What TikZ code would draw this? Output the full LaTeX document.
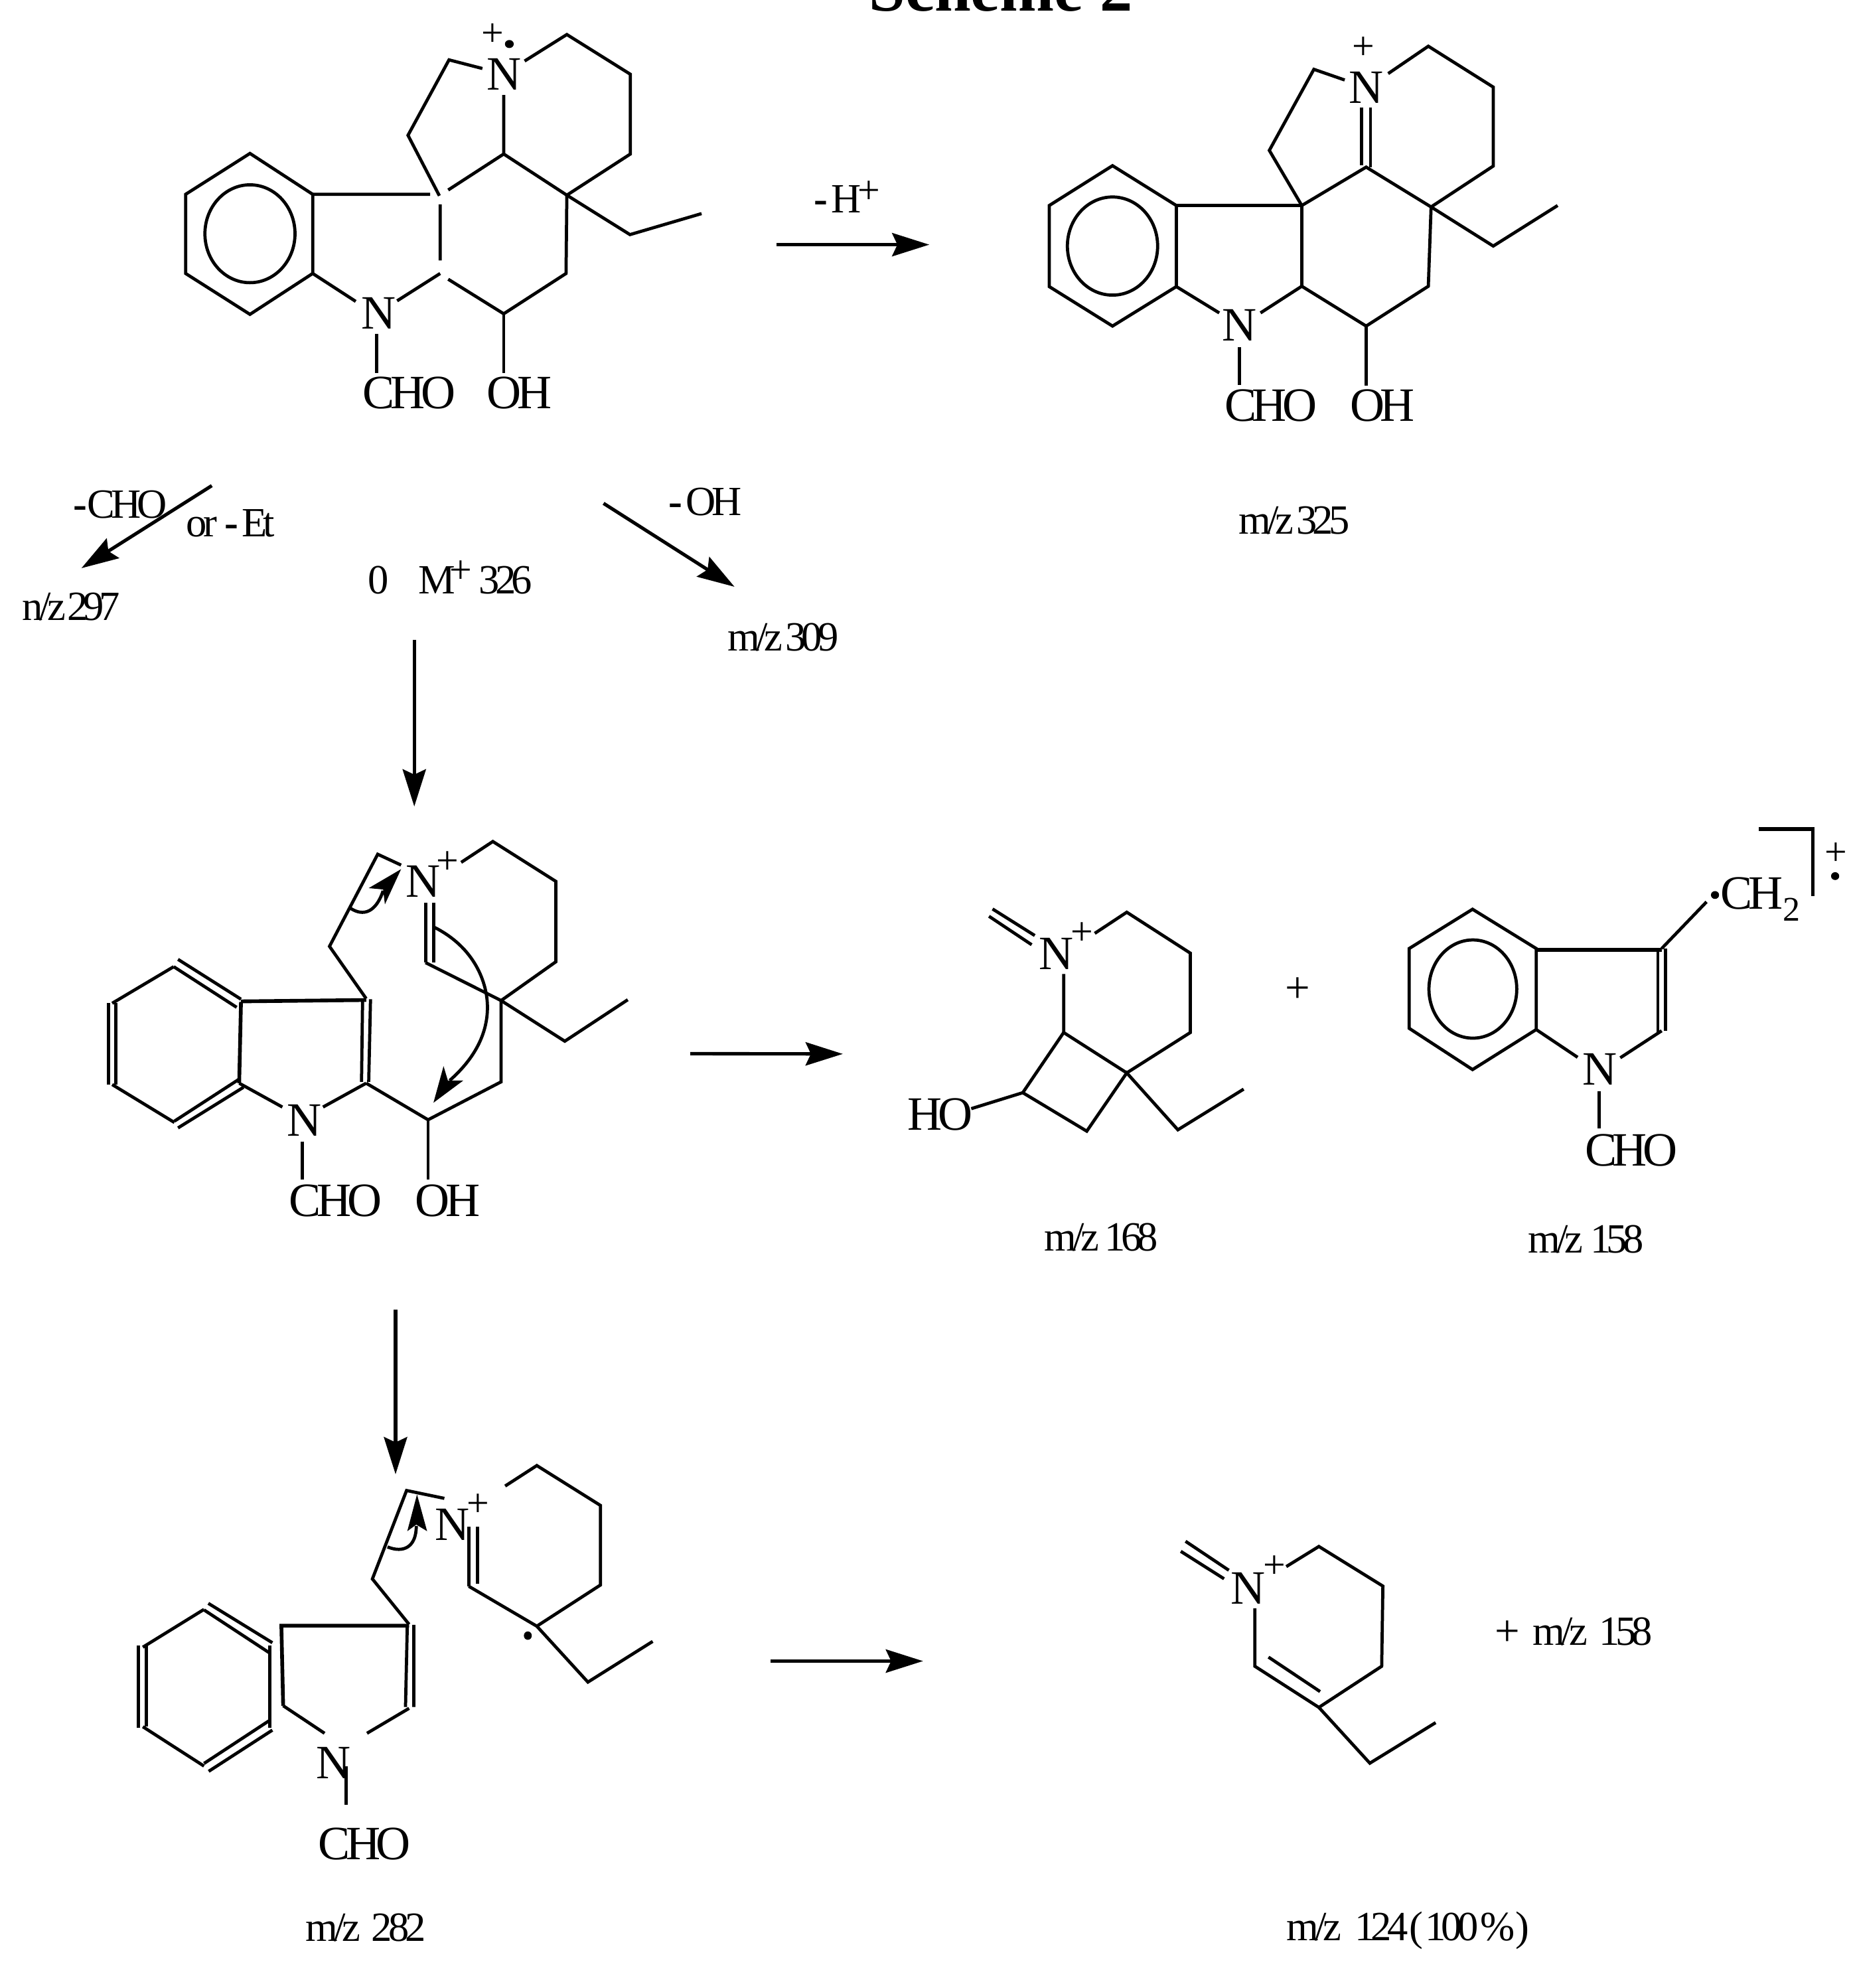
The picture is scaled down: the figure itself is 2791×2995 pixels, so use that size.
\documentclass[tikz,border=0pt]{standalone}
\usepackage{fontspec}
\setmainfont{Liberation Serif}
\newfontfamily\fa[LetterSpace=-9]{Liberation Serif}
\newfontfamily\fc[LetterSpace=-11]{Liberation Serif}
\newcommand{\mzt}[3]{#3/z\hspace{#1cm}{\fc #2}}
\usetikzlibrary{arrows.meta}
\tikzset{
  zm/.style n args={4}{shift={(#1,#2)},xscale=#3,yscale=#4},
  bond/.style={line width=1.35pt,line cap=butt,line join=miter},
  heavy/.style={line width=1.6pt},
  rxn/.style={line width=1.45pt,-{Stealth[length=.56cm,width=.35cm,inset=.08cm]}},
  atom/.style={inner sep=0pt,anchor=base west,font=\fa\fontsize{20.5}{20.5}\selectfont},
  mz/.style={inner sep=0pt,anchor=base west,font=\fa\fontsize{17.8}{17.8}\selectfont},
  chg/.style={inner sep=0pt,anchor=center,font=\rmfamily\fontsize{17}{17}\selectfont},
  bigplus/.style={inner sep=0pt,anchor=center,font=\rmfamily\fontsize{19}{19}\selectfont},
  head/.style={fill=black,draw=none}
}
\begin{document}
\begin{tikzpicture}[x=0.01cm,y=-0.01cm]
\clip (0,0) rectangle (2791,2995);
% title
\node[inner sep=0pt,anchor=base west,font=\rmfamily\bfseries\fontsize{28}{28}\selectfont] (title) at (1309,17) {Scheme 2};

% ---- molecule 1
\begin{scope}[zm={230}{0}{.6059}{.4337}]
\draw[bond] (242,533)--(398,675)--(398,950)--(242,1092)--(82,950)--(82,675)--cycle;
\draw[bond] (242,812) ellipse [x radius=112,y radius=170];
\draw[bond] (398,675)--(690,675) (398,950)--(505,1047) (608,1045)--(715,950) (715,905)--(715,710);
\draw[bond] (735,660)--(873,535)--(873,330);
\draw[bond] (820,238)--(737,208)--(635,470)--(713,680);
\draw[bond] (925,212)--(1030,120)--(1188,258)--(1188,535)--(1030,678)--(873,535);
\draw[bond] (1030,678)--(1028,950)--(873,1090)--(735,970);
\draw[bond] (1030,678)--(1187,815)--(1365,742);
\draw[bond] (873,1090)--(873,1295) (557,1160)--(557,1295);
\node[atom] (n1a) at (830,312) {N};
\node[atom] (n1b) at (518,1143) {N};
\node[atom] (cho1) at (522,1420) {CHO};
\node[atom] (oh1) at (830,1420) {OH};
\node[chg] (p1) at (846,122) {+};
\fill (887,153) ellipse [x radius=11,y radius=14];
\end{scope}

% ---- labels and arrows under molecule 1
\begin{scope}[zm={0}{700}{.829}{.33333}]
\coordinate (a1s) at (385,95); \coordinate (a1e) at (148,468);
\coordinate (a2s) at (1097,175); \coordinate (a2e) at (1335,552);
\coordinate (a3s) at (753,793); \coordinate (a3e) at (753,1545);
\draw[rxn] (a1s)--(a1e);
\draw[rxn] (a2s)--(a2e);
\draw[rxn] (a3s)--(a3e);
\node[mz] (l1) at (133,242) {\textbf{-}\hspace{.05cm}CHO};
\node[mz] (l2) at (338,325) {or\hspace{.17cm}\textbf{-}\hspace{.1cm}Et};
\node[mz] (l3) at (1215,230) {\textbf{-} OH};
\node[mz] (l4) at (668,583) {0};
\node[mz] (l5) at (760,583) {M};
\node[chg] (l6) at (838,485) {+};
\node[mz,font=\fc\fontsize{17.8}{17.8}\selectfont] (l7) at (870,583) {326};
\node[mz] (l8) at (40,703) {\mzt{.02}{297}{n}};
\node[mz] (l9) at (1322,843) {\mzt{.04}{309}{m}};
\end{scope}

% ---- molecule 2
\begin{scope}[zm={1120}{0}{.829}{.5357}]
\draw[bond] (671,466)--(787,578)--(787,806)--(671,917)--(556,806)--(556,578)--cycle;
\draw[bond] (671,692) ellipse [x radius=82,y radius=138];
\draw[heavy] (787,578)--(1015,578);
\draw[bond] (787,806)--(865,880) (940,880)--(1015,805)--(1015,578);
\draw[bond] (1015,805)--(1132,917)--(1245,805)--(1250,582);
\draw[bond] (1015,578)--(1132,470)--(1250,582)--(1363,467)--(1363,245)--(1245,130)--(1172,207);
\draw[bond] (1093,225)--(1037,195)--(956,423)--(1015,578);
\draw[bond] (1124,302)--(1124,465) (1140,302)--(1140,470);
\draw[bond] (1250,582)--(1363,692)--(1480,578);
\draw[bond] (1132,917)--(1132,1085) (902,977)--(902,1083);
\node[atom] (n2a) at (1100,290) {N};
\node[atom] (n2b) at (870,958) {N};
\node[atom] (cho2) at (874,1185) {CHO};
\node[atom] (oh2) at (1102,1185) {OH};
\node[chg] (p2) at (1127,135) {+};
\coordinate (a4s) at (60,688); \coordinate (a4e) at (338,688);
\draw[rxn] (a4s)--(a4e);
\node[mz] (h1) at (128,598) {\textbf{-} H};
\node[chg] (h2) at (228,540) {+};
\node[mz] (m325) at (900,1502) {\mzt{.04}{325}{m}};
\end{scope}

% ---- molecule 3
\begin{scope}[zm={130}{1240}{.5421}{.4082}]
\draw[bond] (255,503)--(430,650) (243,530)--(418,680);
\draw[bond] (62,665)--(62,965) (82,665)--(82,965);
\draw[bond] (245,1100)--(425,945) (255,1125)--(437,975);
\draw[bond] (243,530)--(72,665) (72,965)--(245,1105);
\draw[heavy] (430,660)--(425,960) (430,658)--(778,653);
\draw[bond] (425,960)--(545,1048) (658,1048)--(778,960);
\draw[bond] (768,650)--(765,955) (790,650)--(785,955);
\draw[bond] (778,960)--(950,1095)--(1153,955)--(1153,655);
\draw[bond] (950,1095)--(950,1315) (600,1175)--(600,1315);
\draw[bond] (778,648)--(676,455)--(810,115)--(875,155);
\draw[bond] (1042,145)--(1130,68)--(1305,215)--(1305,512)--(1153,655);
\draw[bond] (943,295)--(943,515) (965,295)--(965,515);
\draw[bond] (943,515)--(1153,655)--(1330,805)--(1505,652);
\node[atom] (n3a) at (886,272) {N};
\node[chg] (p3) at (1005,147) {+};
\node[atom] (n3b) at (556,1155) {N};
\node[atom] (cho3) at (563,1452) {CHO};
\node[atom] (oh3) at (913,1452) {OH};
\draw[bond] (735,315) .. controls (770,345) and (805,330) .. (825,250);
\fill[head] (875,170)--(785,240)--(825,245)--(830,300)--cycle;
\draw[bond] (968,385) .. controls (1080,460) and (1115,590) .. (1115,680) .. controls (1115,790) and (1070,880) .. (1010,950);
\fill[head] (965,1032)--(993,897)--(1005,950)--(1048,950)--cycle;
\end{scope}

% ---- arrow to molecule 4 and molecule 4
\begin{scope}[zm={1000}{1300}{.6696}{.4082}]
\coordinate (a5s) at (60,704); \coordinate (a5e) at (403,705);
\draw[rxn] (a5s)--(a5e);
\draw[bond] (835,268)--(740,170) (828,302)--(732,197);
\draw[bond] (970,260)--(1042,182)--(1185,333)--(1185,626)--(1042,775)--(900,626)--(900,410);
\draw[bond] (900,626)--(808,848)--(952,990)--(1042,775)--(1157,985)--(1305,835);
\draw[bond] (692,907)--(808,848);
\node[atom] (n4) at (844,392) {N};
\node[chg] (p4) at (942,262) {+};
\node[atom] (ho4) at (548,985) {HO};
\node[bigplus] (plus4) at (1427,470) {+};
\node[mz] (m168) at (855,1432) {\mzt{.09}{168}{m}};
\end{scope}

% ---- molecule 7 (indole radical)
\begin{scope}[zm={2050}{1220}{.4726}{.3699}]
\draw[bond] (357,405)--(560,565)--(560,895)--(357,1058)--(155,890)--(155,565)--cycle;
\draw[bond] (358,730) ellipse [x radius=140,y radius=200];
\draw[heavy] (560,570)--(960,570);
\draw[bond] (560,895)--(692,1008) (828,1010)--(960,900);
\draw[bond] (948,570)--(948,905) (972,565)--(972,900);
\draw[bond] (960,565)--(1103,375);
\draw[bond] (760,1147)--(760,1298);
\draw[heavy] (1270,78)--(1442,78)--(1442,352);
\fill (1130,347) ellipse [x radius=13,y radius=16];
\fill (1513,270) ellipse [x radius=13,y radius=16];
\node[atom] (ch2) at (1146,405) {CH\raisebox{-0.18cm}{\fontsize{14.8}{15}\selectfont 2}};
\node[atom] (n7) at (706,1120) {N};
\node[atom] (cho7) at (714,1450) {CHO};
\node[chg] (p7) at (1515,180) {+};
\end{scope}
\node[mz] (m158) at (2302,1887) {\mzt{.11}{158}{m}};

% ---- second down arrow
\coordinate (a6s) at (596,1973); \coordinate (a6e) at (596,2221);
\draw[rxn] (a6s)--(a6e);

% ---- molecule 5
\begin{scope}[zm={180}{2200}{.5421}{.3954}]
\draw[bond] (247,545)--(425,695) (235,570)--(415,732);
\draw[bond] (52,705)--(52,1018) (75,705)--(75,1015);
\draw[bond] (235,1155)--(415,993) (248,1185)--(425,1028);
\draw[bond] (235,568)--(65,712) (65,1015)--(235,1165);
\draw[bond] (418,705)--(418,1020);
\draw[heavy] (805,630)--(450,630)--(455,935);
\draw[bond] (455,935)--(570,1040) (688,1040)--(805,945);
\draw[bond] (800,630)--(795,940) (818,627)--(818,940);
\draw[heavy] (630,1165)--(630,1312);
\draw[bond] (805,625)--(703,452)--(798,115)--(903,145);
\draw[bond] (971,253)--(971,480) (995,253)--(995,470);
\draw[bond] (971,480)--(1160,632)--(1337,475)--(1337,172)--(1160,20)--(1072,98);
\draw[bond] (1160,632)--(1302,845)--(1482,690);
\fill (1135,668) ellipse [x radius=11,y radius=16];
\node[atom] (n5a) at (876,305) {N};
\node[chg] (p5) at (997,170) {+};
\node[atom] (n5b) at (546,1212) {N};
\node[atom] (cho5) at (551,1520) {CHO};
\draw[bond] (745,330) .. controls (790,355) and (825,330) .. (825,250);
\fill[head] (827,130)--(800,270)--(825,245)--(855,270)--cycle;
\end{scope}
\node[mz] (m282) at (460,2924) {m/z\hspace{.16cm}\fa 282};

% ---- molecule 6
\begin{scope}[zm={1130}{2260}{.8929}{.4592}]
\coordinate (a7s) at (35,528); \coordinate (a7e) at (292,528);
\draw[rxn] (a7s)--(a7e);
\draw[bond] (800,258)--(727,168) (808,230)--(735,135);
\draw[bond] (905,218)--(960,152)--(1068,282)--(1066,545)--(960,680)--(852,545)--(852,355);
\draw[bond] (962,628)--(875,515);
\draw[bond] (960,680)--(1046,863)--(1157,730);
\node[atom] (n6) at (811,340) {N};
\node[chg] (p6) at (885,220) {+};
\node[bigplus] (plus6) at (1278,437) {+};
\node[mz] (m158b) at (1320,476) {\mzt{.18}{158}{m}};
\node[mz] (m124) at (905,1445) {m/z\hspace{.2cm}{\fc 124\hspace{.02cm}(\hspace{.03cm}100\hspace{.03cm}\%\hspace{.01cm})}};
\end{scope}
\end{tikzpicture}
\end{document}
